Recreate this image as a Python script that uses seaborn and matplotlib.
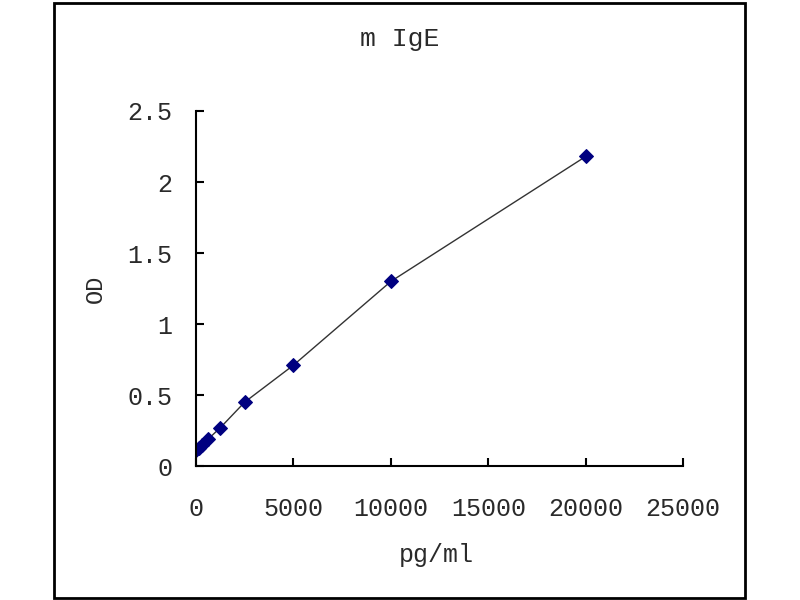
import matplotlib
matplotlib.use("Agg")
import matplotlib.pyplot as plt
import seaborn as sns
import pandas as pd
from matplotlib.patches import Rectangle

# standard curve readings
conc = [0, 156.25, 312.5, 625, 1250, 2500, 5000, 10000, 20000]
od = [0.11, 0.13, 0.15, 0.19, 0.27, 0.45, 0.71, 1.30, 2.18]
x_ticks = [0, 5000, 10000, 15000, 20000, 25000]
y_ticks = [0, 0.5, 1, 1.5, 2, 2.5]
y_tick_labels = ["0", "0.5", "1", "1.5", "2", "2.5"]

sns.set_theme(style="white")
plt.rcParams['font.family'] = ['Liberation Mono', 'DejaVu Sans Mono']
txt_color = '#2a2a2a'

df = pd.DataFrame({"pg/ml": conc, "OD": od})

fig = plt.figure(figsize=(8, 6), dpi=100)
ax = fig.add_axes([0.245, 0.2233, 0.609, 0.5917])

sns.lineplot(data=df, x="pg/ml", y="OD", ax=ax, color='#333333', lw=1.0,
             marker='D', markersize=7, markerfacecolor='#000080',
             markeredgecolor='#000080', estimator=None, sort=False)

ax.set_xlim(0, 25000)
ax.set_ylim(0, 2.5)
ax.set_xticks(x_ticks)
ax.set_yticks(y_ticks)
ax.set_yticklabels(y_tick_labels)
ax.set_xlabel("")
ax.set_ylabel("")

for side in ['top', 'right']:
    ax.spines[side].set_visible(False)
for side in ['left', 'bottom']:
    ax.spines[side].set_color('black')
    ax.spines[side].set_linewidth(1.5)

ax.tick_params(axis='both', direction='in', length=6, width=1.5, color='black',
               bottom=True, left=True, labelsize=18, labelcolor=txt_color)
ax.tick_params(axis='y', pad=17)
ax.tick_params(axis='x', pad=22)

fig.text(0.5, 0.935, "m IgE", ha='center', va='center', fontsize=19, color=txt_color)
fig.text(0.546, 0.075, "pg/ml", ha='center', va='center', fontsize=18, color=txt_color)
fig.text(0.119, 0.518, "OD", ha='center', va='center', rotation=90, fontsize=17, color=txt_color)

# outer chart-area border
fig.patches.append(Rectangle((54 / 800, 2 / 600), (745 - 54) / 800, (597 - 2) / 600,
                             transform=fig.transFigure, fill=False,
                             edgecolor='black', linewidth=2))

fig.savefig("out.png", dpi=100)
